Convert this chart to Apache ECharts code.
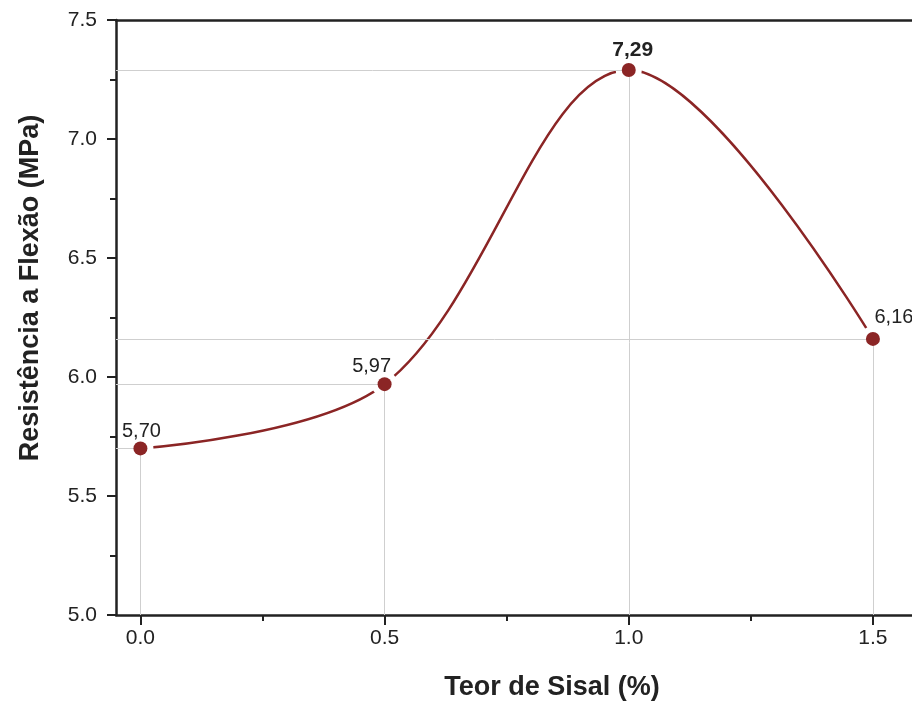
<!DOCTYPE html>
<html><head><meta charset="utf-8">
<script src="https://cdn.jsdelivr.net/npm/echarts@6/dist/echarts.min.js"></script>
<style>html,body{margin:0;padding:0;background:#fff}#c{width:912px;height:704px}</style>
</head><body><div id="c"></div>
<script>
const teor = [0.0, 0.5, 1.0, 1.5];
const resistencia = [5.70, 5.97, 7.29, 6.16];
const xTicks = [0, 0.5, 1.0, 1.5];
const xMinorTicks = [0.25, 0.75, 1.25];
const yTicks = [5.0, 5.5, 6.0, 6.5, 7.0, 7.5];
const xTitle = 'Teor de Sisal (%)';
const yTitle = 'Resistência a Flexão (MPa)';

const labelPlacement = [
  {offset:[1,0], bold:false},
  {offset:[-13,-1], bold:false},
  {offset:[4,-2], bold:true},
  {offset:[21,-4], bold:false}
];
const red = '#8b2525';
const xMin = -0.05, xMax = 1.58, yMin = 5.0, yMax = 7.5;
const pts = teor.map((x,i)=>[x, resistencia[i]]);

const dropLines = [];
pts.forEach(p=>{
  dropLines.push([{coord:[xMin,p[1]]},{coord:[p[0],p[1]]}]);
  dropLines.push([{coord:[p[0],p[1]]},{coord:[p[0],yMin]}]);
});

const font = 'Liberation Sans, Arial, sans-serif';
const chart = echarts.init(document.getElementById('c'));
chart.setOption({
  animation:false,
  grid:{left:116, top:20, right:0, height:595, containLabel:false},
  xAxis:[
    {type:'value', min:xMin, max:xMax, position:'bottom',
     axisLine:{show:true, onZero:false, lineStyle:{color:'#222', width:2.5}},
     axisTick:{show:true, customValues:xTicks, length:10, lineStyle:{color:'#222', width:2}},
     axisLabel:{customValues:xTicks, formatter:v=>v.toFixed(1), fontSize:21, color:'#222', margin:13, fontFamily:font},
     splitLine:{show:false}},
    {type:'value', min:xMin, max:xMax, position:'bottom', gridIndex:0,
     axisLine:{show:false, onZero:false},
     axisTick:{show:true, customValues:xMinorTicks, length:6, lineStyle:{color:'#222', width:2}},
     axisLabel:{show:false}, splitLine:{show:false}},
    {type:'value', min:xMin, max:xMax, position:'top',
     axisLine:{show:true, onZero:false, lineStyle:{color:'#222', width:2.5}},
     axisTick:{show:false}, axisLabel:{show:false}, splitLine:{show:false}}
  ],
  yAxis:[
    {type:'value', min:yMin, max:yMax, interval:0.5,
     axisLine:{show:true, onZero:false, lineStyle:{color:'#222', width:2.5}},
     axisTick:{show:true, length:9, lineStyle:{color:'#222', width:2}},
     minorTick:{show:true, splitNumber:2, length:6, lineStyle:{color:'#222', width:2}},
     axisLabel:{formatter:v=>v.toFixed(1), fontSize:21, color:'#222', margin:19, fontFamily:font},
     splitLine:{show:false}}
  ],
  graphic:[
    {type:'text', x:552, y:688, style:{text:xTitle, fill:'#222', font:'bold 27px '+font, align:'center', verticalAlign:'middle'}},
    {type:'text', x:31, y:288, rotation:Math.PI/2, style:{text:yTitle, fill:'#222', font:'bold 27px '+font, align:'center', verticalAlign:'middle'}}
  ],
  series:[
    {type:'line', data:pts, smooth:0.35, xAxisIndex:0, yAxisIndex:0, z:2,
     symbol:'circle', symbolSize:26, itemStyle:{color:'#fff', opacity:1},
     lineStyle:{color:red, width:2.5}, silent:true},
    {type:'line', data:[], xAxisIndex:0, z:3, silent:true,
     markLine:{z:3, symbol:'none', silent:true, label:{show:false},
       lineStyle:{color:'#cfcfcf', width:1, type:'solid'}, data:dropLines}},
    {type:'scatter', data:pts.map((p,i)=>({value:p, label:{
        show:true, position:'top', distance:0, offset:labelPlacement[i].offset,
        fontWeight:labelPlacement[i].bold?'bold':'normal',
        formatter:d=>d.value[1].toFixed(2).replace('.',','),
        fontSize:labelPlacement[i].bold?21:20, color:'#222', fontFamily:font}})),
     xAxisIndex:0, z:10, symbol:'circle', symbolSize:14, itemStyle:{color:red, opacity:1}}
  ]
});
</script></body></html>
